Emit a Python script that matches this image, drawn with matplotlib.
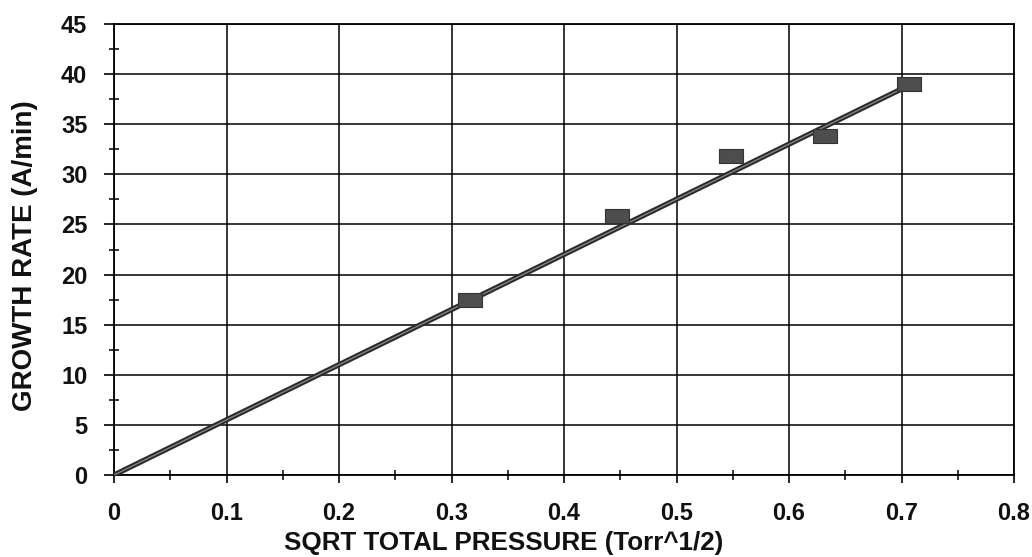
import matplotlib
matplotlib.use("Agg")
import matplotlib.pyplot as plt
from matplotlib.ticker import MultipleLocator

# Data
sqrt_p = [0.316, 0.447, 0.548, 0.632, 0.707]
growth = [17.5, 25.8, 31.8, 33.8, 39.0]
fit_x = [0.0, 0.707]
fit_y = [0.0, 38.9]
x_ticks = [0, 0.1, 0.2, 0.3, 0.4, 0.5, 0.6, 0.7, 0.8]
x_tick_labels = ["0", "0.1", "0.2", "0.3", "0.4", "0.5", "0.6", "0.7", "0.8"]
y_ticks = [0, 5, 10, 15, 20, 25, 30, 35, 40, 45]

plt.rcParams['font.family'] = ['Liberation Sans', 'DejaVu Sans']
plt.rcParams['font.weight'] = 'bold'

fig = plt.figure(figsize=(10.32, 5.57), dpi=100)
ax = fig.add_axes([114/1032, 1 - 475/557, 900/1032, 451/557])

ax.set_xlim(0, 0.8)
ax.set_ylim(0, 45)
ax.set_xticks(x_ticks)
ax.set_xticklabels(x_tick_labels)
ax.set_yticks(y_ticks)
ax.xaxis.set_minor_locator(MultipleLocator(0.05))
ax.yaxis.set_minor_locator(MultipleLocator(2.5))

ax.grid(True, which='major', color='black', linewidth=1.1)
ax.set_axisbelow(True)
for s in ax.spines.values():
    s.set_color('black')
    s.set_linewidth(1.3)

ax.tick_params(axis='x', which='major', direction='out', length=5.8, width=1.2, pad=14, labelsize=17)
ax.tick_params(axis='y', which='major', direction='out', length=7.2, width=1.2, pad=12, labelsize=17)
ax.tick_params(axis='both', which='minor', direction='inout', length=7, width=1.1)
for lab in ax.get_xticklabels() + ax.get_yticklabels():
    lab.set_fontweight('bold')
    lab.set_color('#111111')

# fit line
ax.plot(fit_x, fit_y, color='#2a2a2a', linewidth=3.8, solid_capstyle='butt', zorder=3)
ax.plot(fit_x, fit_y, color='#8a8a8a', linewidth=0.9, zorder=3.5)

# data markers (rectangular)
rect = [(-1.0, -0.565), (1.0, -0.565), (1.0, 0.565), (-1.0, 0.565), (-1.0, -0.565)]
ax.plot(sqrt_p, growth, linestyle='none', marker=rect, markersize=17,
        markerfacecolor='#4d4d4d', markeredgecolor='#333333', markeredgewidth=0.8, zorder=4)

xl = ax.set_xlabel('SQRT TOTAL PRESSURE (Torr^1/2)', fontsize=18.7, fontweight='bold', color='#111111')
xl.set_va('center')
ax.xaxis.set_label_coords((504 - 114) / 900, (475 - 543) / 451)
yl = ax.set_ylabel('GROWTH RATE (A/min)', fontsize=20, fontweight='bold', color='#111111')
yl.set_va('center')
ax.yaxis.set_label_coords((25 - 114) / 900, (475 - 256) / 451)

fig.savefig('out.png', dpi=100)
